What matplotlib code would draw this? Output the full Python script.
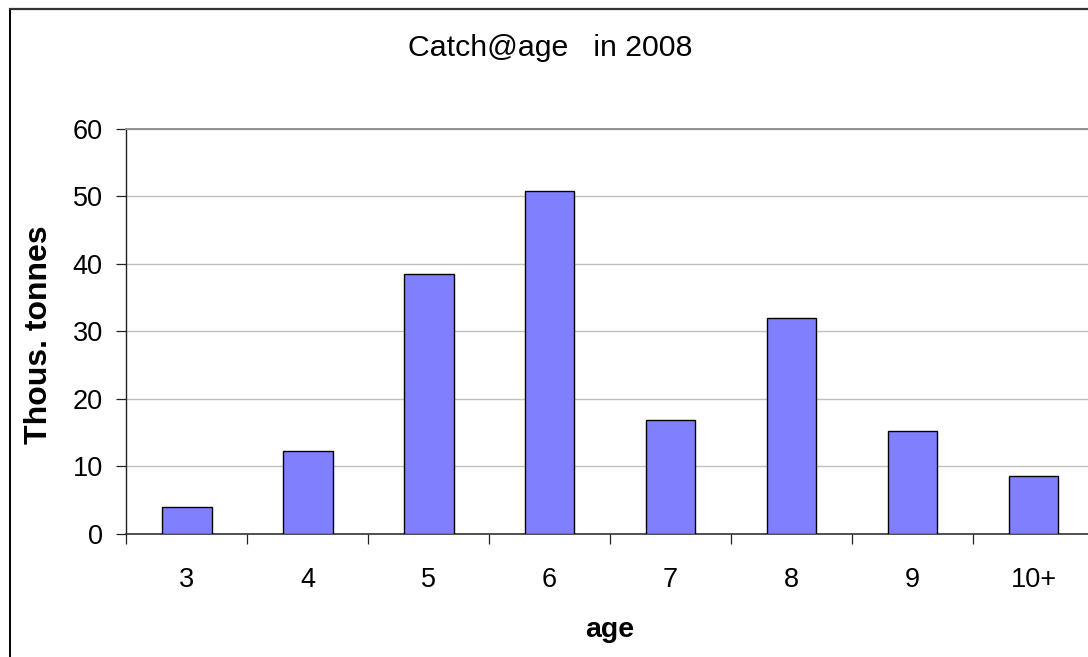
import matplotlib
matplotlib.use("Agg")
import matplotlib.pyplot as plt
from matplotlib.lines import Line2D

plt.rcParams['font.family'] = ['Liberation Sans', 'DejaVu Sans']

ages = ["3", "4", "5", "6", "7", "8", "9", "10+"]
catch = [4.0, 12.3, 38.5, 50.8, 16.9, 32.0, 15.2, 8.55]
yticks = [0, 10, 20, 30, 40, 50, 60]

W, H = 1088, 657
fig = plt.figure(figsize=(W / 100, H / 100), dpi=100)
fig.patch.set_facecolor("white")

left, right, top, bottom = 126.3, 1094.0, 129.0, 533.7
ax = fig.add_axes([left / W, 1 - bottom / H, (right - left) / W, (bottom - top) / H])

x = list(range(len(ages)))
ax.bar(x, catch, width=0.41, color="#8080FF", edgecolor="black", linewidth=1.0, zorder=3)

ax.set_xlim(-0.5, len(ages) - 0.5)
ax.set_ylim(0, 60)
ax.set_yticks(yticks)
ax.set_yticklabels([str(v) for v in yticks])
ax.set_xticks(x)
ax.set_xticklabels(ages)
ax.set_xticks([i - 0.5 for i in range(len(ages) + 1)], minor=True)

ax.tick_params(axis="x", which="major", length=0, pad=24, labelsize=19.5)
ax.tick_params(axis="x", which="minor", length=7, width=0.9, direction="out", color="#222222")
ax.tick_params(axis="y", which="major", length=7, width=0.9, direction="out", pad=10, labelsize=19.5, color="#222222")

ax.yaxis.grid(True, color="#c0c0c0", linewidth=1.0, zorder=0)
ax.set_axisbelow(True)

ax.spines["right"].set_visible(False)
ax.spines["top"].set_color("#909090")
ax.spines["top"].set_linewidth(1.4)
ax.spines["left"].set_color("#222222")
ax.spines["left"].set_linewidth(1.0)
ax.spines["bottom"].set_color("#333333")
ax.spines["bottom"].set_linewidth(1.2)

fig.text(550 / W, 1 - 56 / H, "Catch@age   in 2008", ha="center", va="baseline", fontsize=21.8)
fig.text(610 / W, 1 - 637 / H, "age", ha="center", va="baseline", fontsize=20.5, fontweight="bold")
fig.text(39 / W, 1 - 335 / H, "Thous. tonnes", ha="center", va="center", rotation=90,
         fontsize=23, fontweight="bold")

# outer chart-area border (left and top visible)
fig.add_artist(Line2D([9.5 / W, 9.5 / W], [0, 1 - 8.5 / H], transform=fig.transFigure,
                      color="black", linewidth=1.4))
fig.add_artist(Line2D([9.5 / W, 1.0], [1 - 8.5 / H, 1 - 8.5 / H], transform=fig.transFigure,
                      color="#333333", linewidth=1.6))

fig.savefig("out.png", dpi=100, facecolor="white")
